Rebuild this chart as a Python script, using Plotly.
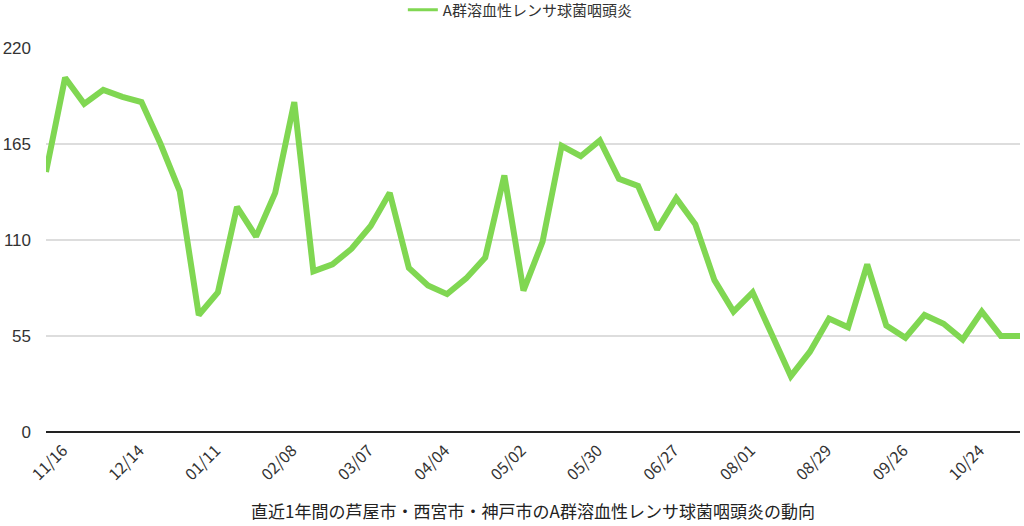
import plotly.graph_objects as go

weeks = ["11/16", "11/23", "11/30", "12/07", "12/14", "12/21", "12/28", "01/04",
         "01/11", "01/18", "01/25", "02/01", "02/08", "02/15", "02/22", "02/29",
         "03/07", "03/14", "03/21", "03/28", "04/04", "04/11", "04/18", "04/25",
         "05/02", "05/09", "05/16", "05/23", "05/30", "06/06", "06/13", "06/20",
         "06/27", "07/04", "07/11", "07/18", "08/01", "08/08", "08/15", "08/22",
         "08/29", "09/05", "09/12", "09/19", "09/26", "10/03", "10/10", "10/17",
         "10/24", "10/31", "11/07", "11/14"]

cases = [149, 203, 188, 196, 192, 189, 165, 138,
         67, 80, 129, 112, 137, 189, 92, 96,
         105, 118, 137, 94, 84, 79, 88, 100,
         147, 81, 109, 164, 158, 167, 145, 141,
         116, 134, 119, 87, 69, 80, 56, 32,
         46, 65, 60, 96, 61, 54, 67, 62,
         53, 69, 55, 55]

shown_ticks = weeks[::4]
y_ticks = [0, 55, 110, 165, 220]

series_name = "A群溶血性レンサ球菌咽頭炎"
title_text = "直近1年間の芦屋市・西宮市・神戸市のA群溶血性レンサ球菌咽頭炎の動向"

font_family = "Liberation Sans, Noto Sans CJK JP, sans-serif"
cjk = "Noto Sans CJK JP"
green = "#80d752"

fig = go.Figure()
fig.add_trace(go.Scatter(
    x=weeks, y=cases, mode="lines", name=series_name, showlegend=False,
    line=dict(color=green, width=6, shape="linear"),
))
# legend-only entry with a thinner swatch
fig.add_trace(go.Scatter(
    x=[None], y=[None], mode="lines", name=series_name, showlegend=True,
    line=dict(color=green, width=3),
))

fig.update_layout(
    width=1024, height=526,
    margin=dict(l=46, r=4, t=48, b=94, autoexpand=False),
    paper_bgcolor="white", plot_bgcolor="white",
    font=dict(family=font_family, color="#333333"),
    showlegend=True,
    legend=dict(orientation="h", x=0.487, xanchor="center", y=1 - 10 / 526, yanchor="middle",
                yref="container", font=dict(size=15, family=cjk, color="#333333"),
                itemwidth=30, bgcolor="rgba(0,0,0,0)"),
    xaxis=dict(
        type="category", range=[0, len(weeks) - 1], automargin=False,
        tickmode="array", tickvals=shown_ticks, ticktext=shown_ticks,
        tickangle=-45, tickfont=dict(size=16, family=cjk, color="#333333"),
        showgrid=False, showline=False, ticks="",
        ticklabelshift=17, ticklabelstandoff=5,
        title=dict(text=title_text, font=dict(size=17, family=cjk, color="#222222"), standoff=22),
    ),
    yaxis=dict(
        range=[0, 220], tickmode="array", tickvals=y_ticks, automargin=False,
        tickfont=dict(size=17, color="#333333"),
        showgrid=True, gridcolor="#dddddd", gridwidth=1.5,
        zeroline=True, zerolinecolor="#222222", zerolinewidth=1.5,
        ticks="", ticklabelstandoff=14,
    ),
)

fig.write_html("out.html", config={"displayModeBar": False},
               post_script="document.body.style.margin='0';")
